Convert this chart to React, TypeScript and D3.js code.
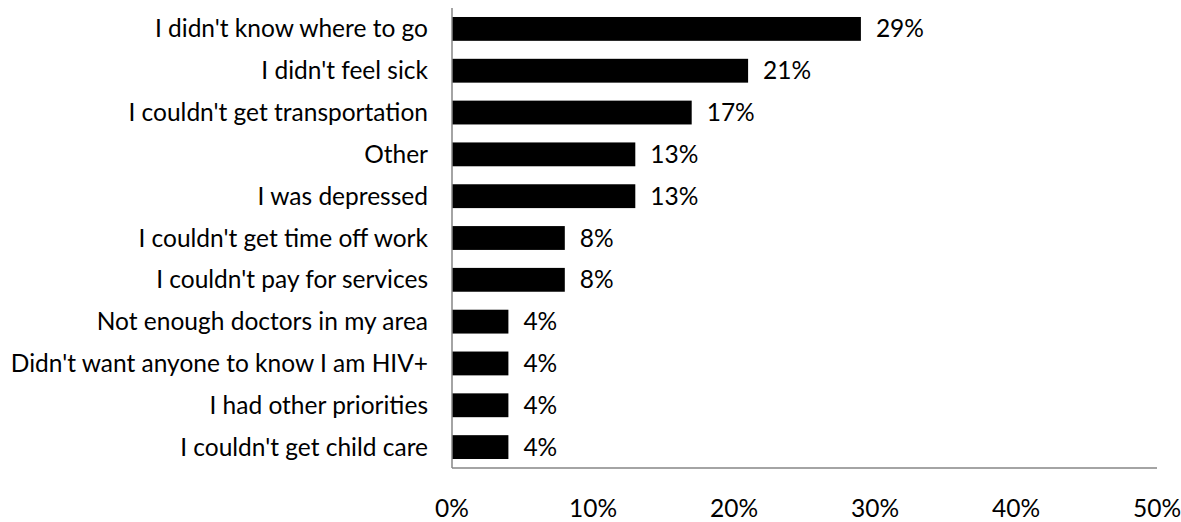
import React from "react";
import * as d3 from "d3";

const categories = [
  "I didn't know where to go",
  "I didn't feel sick",
  "I couldn't get transportation",
  "Other",
  "I was depressed",
  "I couldn't get time off work",
  "I couldn't pay for services",
  "Not enough doctors in my area",
  "Didn't want anyone to know I am HIV+",
  "I had other priorities",
  "I couldn't get child care",
];
const values = [0.29, 0.21, 0.17, 0.13, 0.13, 0.08, 0.08, 0.04, 0.04, 0.04, 0.04];
const ticks = [0, 0.1, 0.2, 0.3, 0.4, 0.5];

const W = 1181;
const H = 522;
const FONT = "Lato, 'Open Sans', sans-serif";
const FS = 24.5;

export default function App() {
  const x = d3.scaleLinear().domain([0, 0.5]).range([452, 1157]);
  const y = d3
    .scaleBand<string>()
    .domain(categories)
    .range([8, 468])
    .paddingInner(0.43)
    .paddingOuter(0.215);
  const fmt = d3.format(".0%");
  const axisColor = "#868686";

  return (
    <svg
      width={W}
      height={H}
      style={{ position: "absolute", left: 0, top: 0, background: "#fff" }}
      fontFamily={FONT}
    >
      {categories.map((c, i) => {
        const yy = y(c)!;
        const bw = y.bandwidth();
        return (
          <g key={c}>
            <rect x={x(0)} y={yy} width={x(values[i]) - x(0)} height={bw} fill="#000" />
            <text
              x={428}
              y={yy + bw / 2}
              dy="0.35em"
              textAnchor="end"
              fontSize={FS}
              fill="#000"
            >
              {c}
            </text>
            <text x={x(values[i]) + 15} y={yy + bw / 2} dy="0.35em" fontSize={FS} fill="#000">
              {fmt(values[i])}
            </text>
          </g>
        );
      })}
      <line x1={x(0)} x2={x(0)} y1={8} y2={468} stroke={axisColor} strokeWidth={1.5} />
      <line x1={x(0)} x2={x(0.5)} y1={468} y2={468} stroke={axisColor} strokeWidth={1.5} />
      {ticks.map((t) => (
        <text key={t} x={x(t)} y={517} textAnchor="middle" fontSize={FS} fill="#000">
          {fmt(t)}
        </text>
      ))}
    </svg>
  );
}
